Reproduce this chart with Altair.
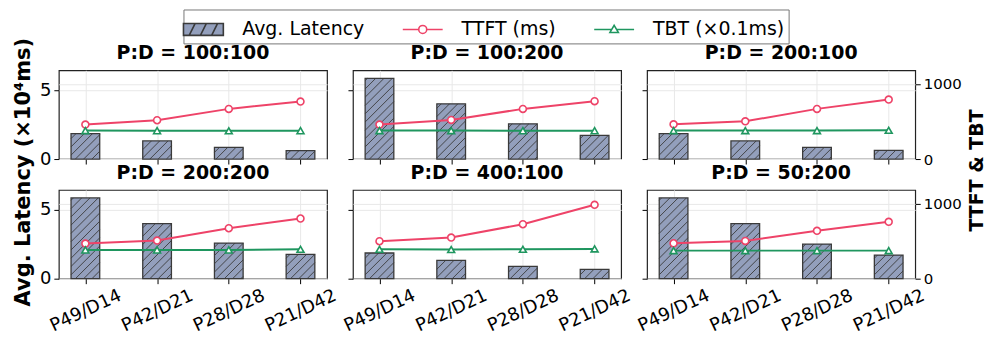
import json
import numpy as np
import pandas as pd
import altair as alt

# ---------------- data ----------------
categories = ["P49/D14", "P42/D21", "P28/D28", "P21/D42"]
panel_titles = ["P:D = 100:100", "P:D = 100:200", "P:D = 200:100",
                "P:D = 200:200", "P:D = 400:100", "P:D = 50:200"]
# Avg. latency (x10^4 ms)
avg_latency = [
    [1.84, 1.31, 0.85, 0.61],
    [5.85, 4.00, 2.55, 1.72],
    [1.84, 1.31, 0.85, 0.63],
    [5.85, 3.99, 2.58, 1.76],
    [1.86, 1.33, 0.89, 0.68],
    [5.85, 3.99, 2.51, 1.71],
]
# TTFT (ms)
ttft = [
    [458, 516, 667, 764],
    [458, 520, 667, 769],
    [462, 502, 667, 791],
    [467, 507, 671, 800],
    [498, 547, 724, 982],
    [471, 502, 636, 756],
]
# TBT (x0.1 ms)
tbt = [
    [378, 377, 376, 377],
    [378, 378, 377, 377],
    [378, 378, 378, 382],
    [382, 382, 382, 391],
    [391, 387, 391, 396],
    [373, 373, 373, 373],
]
series_names = ["Avg. Latency", "TTFT (ms)", "TBT (×0.1ms)"]

# ---------------- styles ----------------
BAR_C = "#939fbc"
EDGE_C = "#3a3a3a"
TTFT_C = "#ee4368"
TBT_C = "#1f965f"
GRID_C = "#e8e8e8"
FONT = "DejaVu Sans"
W, H = 269, 89
XMIN, XMAX = -0.37, 3.37
YL_MAX = 6.43
YR_MAX = 1180
BAR_HALF = 0.2
HATCH_SP = 8.3


def hatch_segments(lat):
    """Diagonal '/' hatch segments clipped to each bar (derived from bar values)."""
    sx = W / (XMAX - XMIN)
    sy = H / YL_MAX
    rows = []
    for i, h in enumerate(lat):
        u0 = (i - BAR_HALF - XMIN) * sx
        u1 = (i + BAR_HALF - XMIN) * sx
        vh = h * sy
        k0 = int(np.floor((u0 - vh) / HATCH_SP))
        k1 = int(np.ceil(u1 / HATCH_SP))
        for k in range(k0, k1 + 1):
            c = k * HATCH_SP
            lo = max(0.0, u0 - c)
            hi = min(vh, u1 - c)
            if hi - lo > 0.8:
                rows.append({"hx1": (lo + c) / sx + XMIN, "hy1": lo / sy,
                             "hx2": (hi + c) / sx + XMIN, "hy2": hi / sy})
    return pd.DataFrame(rows)


label_expr = json.dumps(categories) + "[datum.value]"
xscale = alt.Scale(domain=[XMIN, XMAX], nice=False, zero=False)
yl_scale = alt.Scale(domain=[0, YL_MAX], nice=False)
yr_scale = alt.Scale(domain=[0, YR_MAX], nice=False)

# legend symbols (custom paths)
P_RECT = ("M-1.333,-0.4H1.333V0.4H-1.333Z "
          "M-0.95,0.4L-0.55,-0.4 M-0.2,0.4L0.2,-0.4 M0.55,0.4L0.95,-0.4")
P_CIRC = ("M-1.333,0H-0.267 M0.267,0H1.333 "
          "M0.267,0A0.267,0.267 0 1,1 -0.267,0A0.267,0.267 0 1,1 0.267,0Z")
P_TRI = ("M-1.333,0H-0.15 M0.15,0H1.333 "
         "M0,-0.27L0.28,0.2L-0.28,0.2Z")

leg_def = alt.Legend(
    title=None, orient="none", legendX=125, legendY=-61,
    direction="horizontal", columns=3, columnPadding=34,
    labelFontSize=19, labelFont=FONT, labelColor="black", labelOffset=23,
    symbolSize=900, symbolStrokeWidth=1.6, symbolFillColor="white",
    padding=4, strokeColor="#777777", fillColor="white", cornerRadius=0,
)


def panel(p):
    row, col = divmod(p, 3)
    bottom = row == 1
    xaxis = alt.Axis(
        values=[0, 1, 2, 3], labelExpr=label_expr, labels=bottom, title=None,
        grid=True, gridColor=GRID_C, domain=False, ticks=True, tickSize=5,
        tickColor="black", labelFontSize=18, labelAngle=335, labelAlign="center",
        labelBaseline="middle", labelPadding=27, labelColor="black",
        labelFlush=False, labelOverlap=False, labelFont=FONT,
    )
    ylaxis = alt.Axis(
        values=[0, 5], orient="left", labels=(col == 0), title=None,
        grid=True, gridColor=GRID_C, domain=False, ticks=True, tickSize=5,
        tickColor="black", labelFontSize=18, labelPadding=3, labelColor="black",
        labelFont=FONT,
    )
    yraxis = alt.Axis(
        values=[0, 1000], orient="right", labels=(col == 2), ticks=(col == 2),
        title=("TTFT & TBT" if p == 2 else None), format="d",
        grid=True, gridColor=GRID_C, domain=False, tickSize=5, tickColor="black",
        labelFontSize=15, labelPadding=3, labelColor="black", labelFont=FONT,
        titleFont=FONT, titleFontSize=19, titleFontWeight="bold", titleColor="black",
        titleX=61, titleY=100, titleAngle=270, titleBaseline="middle",
        titleAlign="center",
    )

    bdf = pd.DataFrame({"i": list(range(len(categories))), "cat": categories,
                        "lat": avg_latency[p]})
    hdf = hatch_segments(avg_latency[p])
    ldf = pd.DataFrame({
        "i": list(range(len(categories))) * 2,
        "series": [series_names[1]] * 4 + [series_names[2]] * 4,
        "value": ttft[p] + tbt[p],
    })

    bars = alt.Chart(bdf).transform_calculate(
        x1=f"datum.i - {BAR_HALF}", x2=f"datum.i + {BAR_HALF}", base="0"
    ).mark_rect(fill=BAR_C, stroke=EDGE_C, strokeWidth=1.3).encode(
        x=alt.X("x1:Q", scale=xscale, axis=xaxis),
        x2="x2:Q",
        y=alt.Y("lat:Q", scale=yl_scale, axis=ylaxis),
        y2="base:Q",
    )
    hatch = alt.Chart(hdf).mark_rule(stroke=EDGE_C, strokeWidth=0.9).encode(
        x=alt.X("hx1:Q", scale=xscale, axis=xaxis),
        x2="hx2:Q",
        y=alt.Y("hy1:Q", scale=yl_scale, axis=ylaxis),
        y2="hy2:Q",
    )
    left = alt.layer(bars, hatch)

    def series_layers(name, color, shape):
        base = alt.Chart(ldf).transform_filter(alt.datum.series == name).encode(
            x=alt.X("i:Q", scale=xscale, axis=xaxis),
            y=alt.Y("value:Q", scale=yr_scale, axis=yraxis),
        )
        ln = base.mark_line(color=color, strokeWidth=2)
        pt = base.mark_point(shape=shape, filled=True, fill="white", stroke=color,
                             strokeWidth=1.6, size=48, opacity=1)
        return [ln, pt]

    rlayers = series_layers(series_names[1], TTFT_C, "circle") + \
        series_layers(series_names[2], TBT_C, "triangle-up")
    if p == 0:
        leg = alt.Chart(ldf).transform_filter("false").mark_point(
            filled=True, opacity=1
        ).encode(
            fill=alt.Fill("series:N", scale=alt.Scale(domain=series_names,
                          range=[BAR_C, "white", "white"]), legend=leg_def),
            stroke=alt.Stroke("series:N", scale=alt.Scale(domain=series_names,
                              range=[EDGE_C, TTFT_C, TBT_C]), legend=leg_def),
            shape=alt.Shape("series:N", scale=alt.Scale(domain=series_names,
                            range=[P_RECT, P_CIRC, P_TRI]), legend=leg_def),
        )
        rlayers.append(leg)
    right = alt.layer(*rlayers)

    return alt.layer(left, right).resolve_scale(y="independent").properties(
        width=W, height=H,
        title=alt.TitleParams(panel_titles[p], fontSize=19, fontWeight="bold",
                              font=FONT, color="black", offset=7, anchor="middle",
                              frame="group"),
    )


panels = [panel(p) for p in range(6)]

chart = alt.concat(
    *panels, columns=3, spacing={"row": 31, "column": 26}, bounds="flush"
).properties(
    padding={"left": 4, "top": 0, "right": 2, "bottom": 0},
    title=alt.TitleParams("Avg. Latency (×10⁴ms)", orient="left", anchor="middle",
                          fontSize=21, fontWeight="bold", font=FONT, color="black",
                          offset=5),
).configure(
    font=FONT
).configure_view(
    stroke="#222222", strokeWidth=1.2
)

chart.save("out.html", embed_options={"renderer": "svg", "actions": False})
